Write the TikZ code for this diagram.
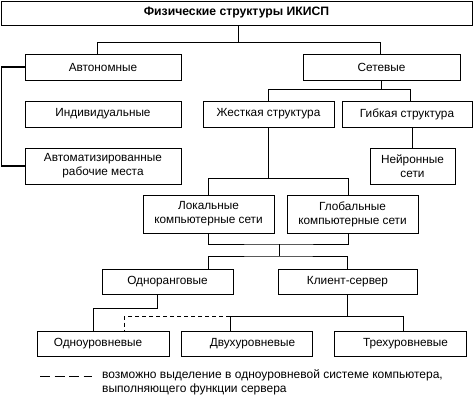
\documentclass[tikz,border=0pt]{standalone}
\usepackage{fontspec}
\setmainfont{Liberation Sans}
\usetikzlibrary{calc}
\begin{document}
\begin{tikzpicture}[x=1pt,y=-1pt,
  box/.style={draw, line width=1pt, inner sep=0pt, align=center,
    font=\fontsize{11.8}{14}\selectfont},
  conn/.style={line width=1pt},
  dsh/.style={line width=1pt, dash pattern=on 4pt off 3pt}]
\useasboundingbox (0,0) rectangle (474,400);
\node[box, minimum width=471, minimum height=24, font=\fontsize{12.2}{14}\selectfont\bfseries] (title) at (236.5,13) {Физические структуры ИКИСП};
\node[box, minimum width=156, minimum height=26] (avt) at (103,67) {Автономные};
\node[box, minimum width=157, minimum height=26] (set) at (381.5,67) {Сетевые};
\node[box, minimum width=156, minimum height=26] (ind) at (103,114) {Индивидуальные};
\node[box, minimum width=156, minimum height=36] (arm) at (103,166) {Автоматизированные\\рабочие места};
\node[box, minimum width=131, minimum height=26] (zhest) at (268.5,114) {Жесткая структура};
\node[box, minimum width=130, minimum height=26] (gib) at (407,114) {Гибкая структура};
\node[box, minimum width=85, minimum height=36] (neur) at (412.5,166) {Нейронные\\сети};
\node[box, minimum width=131, minimum height=38] (lok) at (208.5,214) {Локальные\\компьютерные сети};
\node[box, minimum width=131, minimum height=38] (glob) at (352.5,214) {Глобальные\\компьютерные сети};
\node[box, minimum width=131, minimum height=25] (odnor) at (167.5,281.5) {Одноранговые};
\node[box, minimum width=139, minimum height=25] (klient) at (347.5,281.5) {Клиент-сервер};
\node[box, minimum width=132, minimum height=25, text width=132, align=center] (odnour) at (103,343.5) {\hspace*{-10pt}Одноуровневые};
\node[box, minimum width=131, minimum height=25, text width=131, align=center] (dvuh) at (246.5,343.5) {\hspace*{12pt}Двухуровневые};
\node[box, minimum width=132, minimum height=25, text width=132, align=center] (treh) at (400,343.5) {\hspace*{11pt}Трехуровневые};

% title to level 1
\draw[conn] ([xshift=1.5]title.south) -- ++(0,17) coordinate (j1);
\draw[conn] ([xshift=-6]avt.north) |- (j1) -| ([xshift=-1.5]set.north);
% left bracket
\draw[line width=1.6pt] (avt.west) -- ++(-23,0) |- (arm.west);
% set to zhest / gib
\draw[conn] (set.south) -- ++(0,9) coordinate (j2);
\draw[conn] (zhest.north) |- (j2) -| ([xshift=3]gib.north);
% gib to neur
\draw[conn] (neur.north) -- (neur.north |- gib.south);
% zhest to lok / glob
\draw[conn] (zhest.south) -- ++(0,51) coordinate (j3);
\draw[conn] (lok.north) |- (j3) -| ([xshift=-4.5]glob.north);
% lok/glob to odnor/klient
\coordinate (j4) at (279,244);
\coordinate (j5) at (279,256);
\draw[conn] (lok.south) |- (j4) -| ([xshift=-4.5]glob.south);
\draw[conn] (j4) -- (j5);
\draw[conn] ([xshift=40.5]odnor.north) |- (j5) -| (klient.north);
% odnor to odnour
\draw[conn] ([xshift=-10.5]odnor.south) -- ++(0,14) -| ([xshift=-10]odnour.north);
% klient to dvuh/treh
\draw[conn] (klient.south) -- ++(0,22) coordinate (j6);
\draw[conn] ([xshift=-16.5]dvuh.north) |- (j6) -| ([xshift=3]treh.north);
\draw[dsh] ([xshift=-16.5]dvuh.north |- j6) -| ([xshift=21]odnour.north);
% legend
\coordinate (l1) at (40,376);
\coordinate (l2) at (92,376);
\draw[line width=1pt, dash pattern=on 10pt off 4.5pt] (l1) -- (l2);
\node[anchor=north west, inner sep=0pt, align=left, font=\fontsize{12}{14}\selectfont] (leg) at (102,369.5) {возможно выделение в одноуровневой системе компьютера,\\выполняющего функции сервера};
\end{tikzpicture}
\end{document}
